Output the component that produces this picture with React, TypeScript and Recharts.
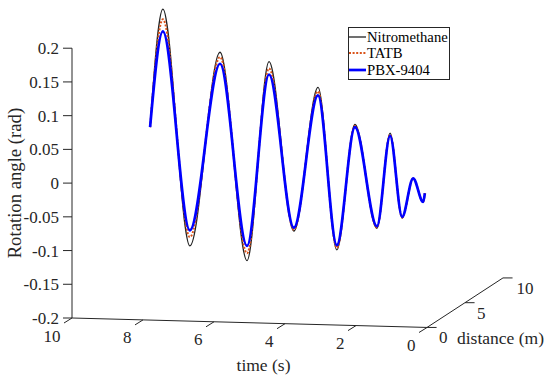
import React from 'react';
import { LineChart, Line, XAxis, YAxis, Legend, ReferenceLine, ReferenceDot } from 'recharts';

// values (peaks / troughs of each response)
const time = [7.8, 7.44, 6.68, 5.83, 5.07, 4.45, 3.75, 3.07, 2.54, 2.03, 1.41, 1.04, 0.7, 0.39, 0.11, 0.06];
const nitromethane = [0.083, 0.258, -0.093, 0.194, -0.115, 0.18, -0.071, 0.142, -0.099, 0.087, -0.067, 0.074, -0.052, 0.007, -0.028, -0.015];
const tatb = [0.083, 0.243, -0.08, 0.187, -0.104, 0.17, -0.069, 0.136, -0.096, 0.085, -0.066, 0.072, -0.051, 0.007, -0.028, -0.015];
const pbx9404 = [0.083, 0.225, -0.07, 0.177, -0.093, 0.161, -0.066, 0.13, -0.092, 0.083, -0.064, 0.07, -0.05, 0.007, -0.028, -0.015];

const timeTicks = [0, 2, 4, 6, 8, 10];
const angleTicks = [-0.2, -0.15, -0.1, -0.05, 0, 0.05, 0.1, 0.15, 0.2];
const distanceTicks = [0, 5, 10];

const data = time.map((t, i) => ({ t, nitromethane: nitromethane[i], tatb: tatb[i], pbx9404: pbx9404[i] }));

const series = [
  { key: 'nitromethane', name: 'Nitromethane', color: '#222222', width: 1.3, dash: undefined },
  { key: 'tatb', name: 'TATB', color: '#D95319', width: 2, dash: '2 1.6' },
  { key: 'pbx9404', name: 'PBX-9404', color: '#0000FF', width: 2.7, dash: undefined },
];

const FONT = "'Liberation Serif', 'Times New Roman', serif";
const AX = '#262626';

// floor of the 3-D box projected onto the chart's time / angle plane
const floor = (t: number, d: number) => ({ x: t - d * 0.214, y: -0.2 - (10 - t) * 0.0014 + d * 0.00734 });

const TimeTick = (props: any) => {
  const { x, y, payload } = props;
  const t = payload.value;
  const ay = y + (10 - t) * 0.95;
  return (
    <g>
      <line x1={x} y1={ay} x2={x - 8} y2={ay + 5} stroke={AX} strokeWidth={1} />
      <text x={x - 11.5} y={ay + 18} textAnchor="end" dominantBaseline="central" fill={AX} fontSize={17} fontFamily={FONT}>
        {t}
      </text>
    </g>
  );
};

const TimeLabel = ({ viewBox }: any) => (
  <text x={viewBox.x + viewBox.width / 2 + 14} y={viewBox.y + 47} textAnchor="middle" dominantBaseline="central" fill={AX} fontSize={17.5} fontFamily={FONT}>
    time (s)
  </text>
);

const AngleLabel = ({ viewBox }: any) => {
  const cx = viewBox.x + 14.5;
  const cy = viewBox.y + viewBox.height * (0.27 / 0.47);
  return (
    <text x={cx} y={cy} transform={`rotate(-90 ${cx} ${cy})`} textAnchor="middle" dominantBaseline="central" fill={AX} fontSize={18.7} fontFamily={FONT}>
      Rotation angle (rad)
    </text>
  );
};

const distLabel = (text: string, dx: number) => ({ viewBox }: any) => (
  <text x={viewBox.x + dx} y={viewBox.y + 10.5} textAnchor="start" dominantBaseline="central" fill={AX} fontSize={text.length > 2 ? 17.5 : 17} fontFamily={FONT}>
    {text}
  </text>
);

const LegendBox = () => (
  <div style={{ border: `1px solid ${AX}`, background: '#fff', width: 102, boxSizing: 'border-box', padding: '0.5px 0 1px 0', fontFamily: FONT, fontSize: 14.7, color: '#000', lineHeight: '16.5px' }}>
    {series.map((s) => (
      <div key={s.key} style={{ display: 'flex', alignItems: 'center', height: 16.5 }}>
        <svg width={17} height={8} style={{ display: 'block' }}>
          <line x1={0} y1={4} x2={17} y2={4} stroke={s.color} strokeWidth={s.width} strokeDasharray={s.dash} />
        </svg>
        <span style={{ marginLeft: 1 }}>{s.name}</span>
      </div>
    ))}
  </div>
);

export default function App() {
  return (
    <div style={{ position: 'absolute', left: 0, top: 0, background: '#fff' }}>
      <LineChart width={550} height={380} data={data} margin={{ top: 1, right: 123, bottom: 22, left: 0 }} style={{ fontFamily: FONT }}>
        <XAxis
          dataKey="t"
          type="number"
          domain={[0, 10]}
          reversed
          ticks={timeTicks}
          interval={0}
          axisLine={false}
          tickLine={false}
          tickSize={0}
          tickMargin={0}
          height={40}
          tick={TimeTick}
          label={TimeLabel}
        />
        <YAxis
          type="number"
          domain={[-0.2, 0.27]}
          ticks={angleTicks}
          interval={0}
          width={72}
          axisLine={false}
          tickLine={{ stroke: AX }}
          tickSize={9}
          tickMargin={4}
          tick={{ fill: AX, fontSize: 17, fontFamily: FONT }}
          label={AngleLabel}
        />
        <ReferenceLine segment={[{ x: 10, y: -0.2 }, { x: 10, y: 0.2 }]} stroke={AX} ifOverflow="visible" />
        <ReferenceLine segment={[floor(10, 0), floor(0, 0)]} stroke={AX} ifOverflow="visible" />
        <ReferenceLine segment={[floor(0, 0), floor(0, 10)]} stroke={AX} ifOverflow="visible" />
        {distanceTicks.map((d) => {
          const p = floor(0, d);
          return <ReferenceLine key={`dt${d}`} segment={[p, { x: p.x - 0.27, y: p.y }]} stroke={AX} ifOverflow="visible" />;
        })}
        {distanceTicks.map((d) => {
          const p = floor(0, d);
          return <ReferenceDot key={`dl${d}`} x={p.x} y={p.y} r={0} fill="none" stroke="none" ifOverflow="visible" label={distLabel(String(d), String(d).length > 1 ? 13.5 : 12)} />;
        })}
        <ReferenceDot x={floor(0, 0).x} y={floor(0, 0).y} r={0} fill="none" stroke="none" ifOverflow="visible" label={distLabel('distance (m)', 30)} />
        {series.map((s) => (
          <Line
            key={s.key}
            dataKey={s.key}
            name={s.name}
            type="monotone"
            stroke={s.color}
            strokeWidth={s.width}
            strokeDasharray={s.dash}
            dot={false}
            activeDot={false}
            isAnimationActive={false}
          />
        ))}
        <Legend layout="vertical" align="center" verticalAlign="middle" wrapperStyle={{ left: 348, top: 27, width: 102 }} content={LegendBox} />
      </LineChart>
    </div>
  );
}
